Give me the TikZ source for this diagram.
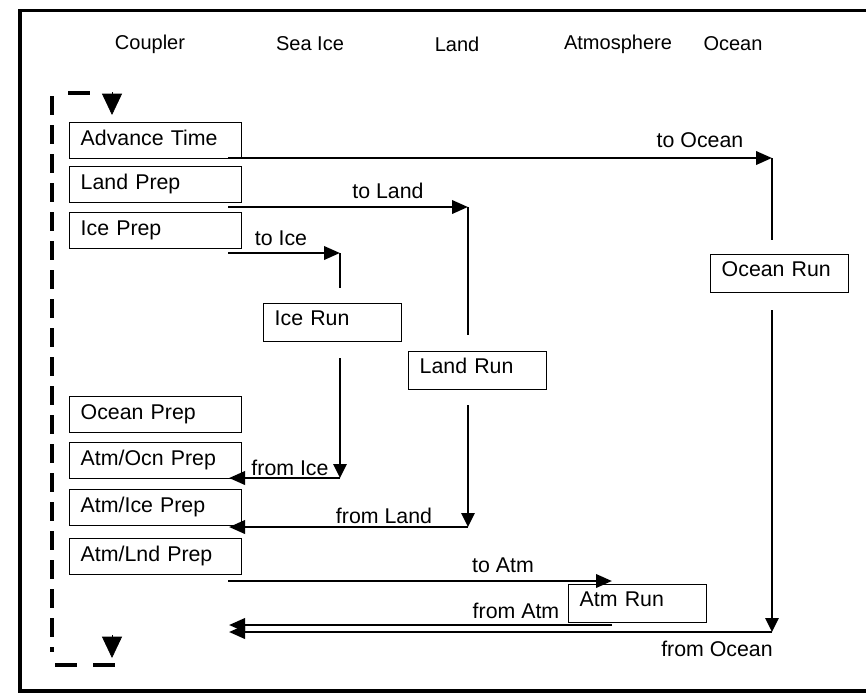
\documentclass[tikz,border=0pt]{standalone}
\usepackage{fontspec}
\setmainfont{Liberation Sans}
\usetikzlibrary{arrows.meta}
\begin{document}
\begin{tikzpicture}[x=0.75pt,y=-0.75pt,
  font=\fontsize{16}{19}\selectfont,
  box/.style={draw, line width=1.1pt, anchor=north west, inner xsep=8.25pt, inner ysep=0pt,
    text width=112.5pt, align=left, text height=17.25pt, text depth=9.75pt},
  runbox/.style={box, text width=87pt, text height=16.5pt, text depth=12pt},
  flow/.style={line width=2pt, -{Triangle[length=12pt,width=10pt]}},
  drop/.style={line width=1.3pt},
  droparrow/.style={line width=1.3pt, -{Triangle[length=10.5pt,width=10pt]}},
  lbl/.style={inner sep=0pt, anchor=base},
  head/.style={inner sep=0pt, font=\fontsize{15}{18}\selectfont},
  loopline/.style={line width=3.3pt, dash pattern=on 14.25pt off 7.5pt},
  loopseg/.style={line width=3pt},
  looptip/.style={line width=0.5pt, -{Triangle[length=16pt,width=15pt]}}
]
\useasboundingbox (0,0) rectangle (866,693);
% frame
\draw[line width=2.4pt] (866,10.5) -- (20,10.5) -- (20,691) -- (866,691);

% column headers
\node[head] (hcoupler) at (150,44) {Coupler};
\node[head] (hseaice) at (310,44) {Sea Ice};
\node[head] (hland) at (457,44) {Land};
\node[head] (hatm) at (618,44) {Atmosphere};
\node[head] (hocean) at (733,44) {Ocean};

% coupler boxes
\node[box] (adv) at (69,122) {Advance Time};
\node[box] (landprep) at (69,166) {Land Prep};
\node[box] (iceprep) at (69,212) {Ice Prep};
\node[box] (oceanprep) at (69,396) {Ocean Prep};
\node[box] (atmocn) at (69,442) {Atm/Ocn Prep};
\node[box] (atmice) at (69,489) {Atm/Ice Prep};
\node[box] (atmlnd) at (69,538) {Atm/Lnd Prep};

% component run boxes
\node[runbox] (icerun) at (263,303) {Ice Run};
\node[runbox] (landrun) at (408,351) {Land Run};
\node[runbox] (oceanrun) at (710,254) {Ocean Run};
\node[runbox] (atmrun) at (568,584) {Atm Run};

% connector points
\coordinate (advout) at (228,158);
\coordinate (ocA) at (772,158);
\coordinate (ocB) at (772,240);
\coordinate (ocC) at (772,310);
\coordinate (ocD) at (772,632);
\coordinate (ocE) at (229,632);

\coordinate (landout) at (228,207);
\coordinate (lnA) at (468,207);
\coordinate (lnB) at (468,335);
\coordinate (lnC) at (468,405);
\coordinate (lnD) at (468,527);
\coordinate (lnE) at (229,527);

\coordinate (iceout) at (228,253);
\coordinate (icA) at (340,253);
\coordinate (icB) at (340,288);
\coordinate (icC) at (340,358);
\coordinate (icD) at (340,478);
\coordinate (icE) at (229,478);

\coordinate (atmout) at (228,581);
\coordinate (atA) at (612,581);
\coordinate (atB) at (612,625);
\coordinate (atC) at (229,625);

% ocean
\draw[flow] (advout) -- (ocA);
\draw[drop] (ocA) -- (ocB);
\draw[droparrow] (ocC) -- (ocD);
\draw[flow] (ocD) -- (ocE);
% land
\draw[flow] (landout) -- (lnA);
\draw[drop] (lnA) -- (lnB);
\draw[droparrow] (lnC) -- (lnD);
\draw[flow] (lnD) -- (lnE);
% ice
\draw[flow] (iceout) -- (icA);
\draw[drop] (icA) -- (icB);
\draw[droparrow] (icC) -- (icD);
\draw[flow] (icD) -- (icE);
% atm
\draw[flow] (atmout) -- (atA);
\draw[flow] (atB) -- (atC);

% labels
\node[lbl] (ltoocean) at (700,147) {to Ocean};
\node[lbl] (ltoland) at (388,198) {to Land};
\node[lbl] (ltoice) at (281,245) {to Ice};
\node[lbl] (lfromice) at (290,475) {from Ice};
\node[lbl] (lfromland) at (384,523) {from Land};
\node[lbl] (ltoatm) at (503,572) {to Atm};
\node[lbl] (lfromatm) at (516,618) {from Atm};
\node[lbl] (lfromocean) at (717,656) {from Ocean};

% loop (dashed return path)
\coordinate (lpT1) at (68,93);
\coordinate (lpT2) at (90,93);
\coordinate (lpV1) at (52,96);
\coordinate (lpV2) at (52,652);
\coordinate (lpB1) at (55,665);
\coordinate (lpB2) at (77,665);
\coordinate (lpB3) at (93,665);
\coordinate (lpB4) at (115,665);
\draw[loopseg] (lpT1) -- (lpT2);
\draw[loopline] (lpV1) -- (lpV2);
\draw[loopseg] (lpB1) -- (lpB2);
\draw[loopseg] (lpB3) -- (lpB4);
\coordinate (ttA) at (112,92);
\coordinate (ttB) at (112,115);
\coordinate (tbA) at (112,635);
\coordinate (tbB) at (112,658);
\draw[looptip] (ttA) -- (ttB);
\draw[looptip] (tbA) -- (tbB);
\end{tikzpicture}
\end{document}
